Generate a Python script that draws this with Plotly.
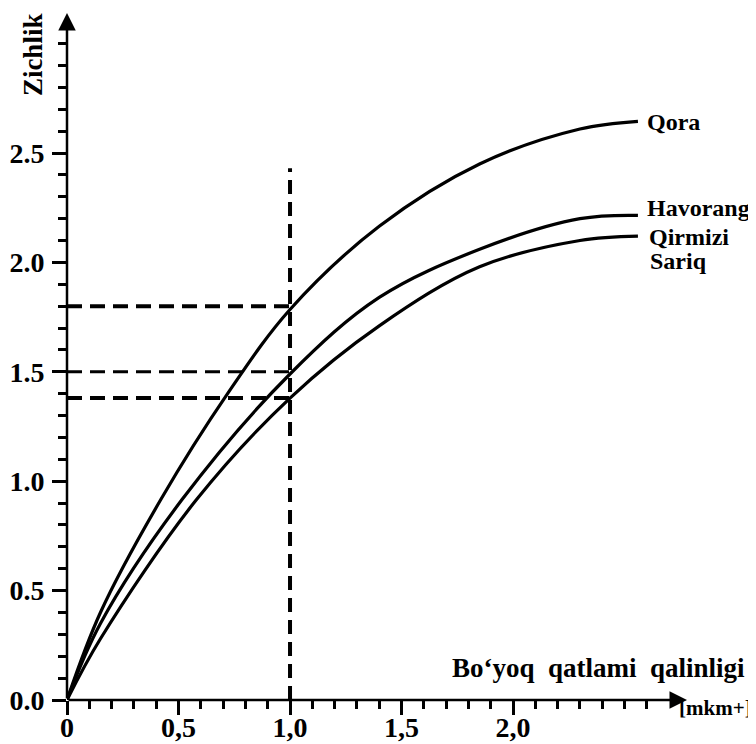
import plotly.graph_objects as go

# ---- data ----
qora_x = [0, 0.15, 0.42, 0.72, 1.0, 1.4, 1.85, 2.3, 2.56]
qora_y = [0, 0.40, 0.915, 1.40, 1.785, 2.165, 2.45, 2.61, 2.645]

havorang_x = [0, 0.15, 0.515, 1.0, 1.4, 1.85, 2.3, 2.56]
havorang_y = [0, 0.35, 0.915, 1.49, 1.84, 2.06, 2.20, 2.215]

qirmizi_x = [0, 0.15, 0.58, 1.0, 1.4, 1.85, 2.3, 2.56]
qirmizi_y = [0, 0.28, 0.915, 1.38, 1.71, 1.98, 2.10, 2.12]

ref_x = 1.0
ref_levels = [1.8, 1.5, 1.38]
ref_widths = [4, 3, 4]
vline_top = 2.43

x_major = [0, 0.5, 1.0, 1.5, 2.0]
x_major_text = ["0", "0,5", "1,0", "1,5", "2,0"]
x_minor = [round(0.1 * i, 1) for i in range(1, 27)]
y_major = [0, 0.5, 1.0, 1.5, 2.0, 2.5]
y_major_text = ["0.0", "0.5", "1.0", "1.5", "2.0", "2.5"]
y_minor = [round(0.1 * i, 1) for i in range(1, 31)]

x_end = 2.78
y_end = 3.14

FONT = "Liberation Serif"

fig = go.Figure()

# reference dashed lines
for lvl, w in zip(ref_levels, ref_widths):
    fig.add_trace(go.Scatter(x=[0, ref_x], y=[lvl, lvl], mode="lines",
                             line=dict(color="black", width=w, dash="15px,8px"),
                             hoverinfo="skip", showlegend=False))
fig.add_trace(go.Scatter(x=[ref_x, ref_x], y=[0, vline_top], mode="lines",
                         line=dict(color="black", width=4, dash="14px,8px"),
                         hoverinfo="skip", showlegend=False))

# curves
for xs, ys in [(qora_x, qora_y), (havorang_x, havorang_y), (qirmizi_x, qirmizi_y)]:
    fig.add_trace(go.Scatter(x=xs, y=ys, mode="lines",
                             line=dict(color="black", width=3.2, shape="spline", smoothing=1.0),
                             hoverinfo="skip", showlegend=False))

# curve labels
labels = [("Qora", 2.59, 2.64), ("Havorang", 2.59, 2.25),
          ("Qirmizi", 2.60, 2.115), ("Sariq", 2.605, 2.005)]
for txt, lx, ly in labels:
    fig.add_annotation(x=lx, y=ly, xref="x", yref="y", text=txt, showarrow=False,
                       xanchor="left", yanchor="middle",
                       font=dict(family=FONT, size=24, color="black", weight="bold"))

# axis arrows
fig.add_annotation(x=x_end, y=0, ax=0, ay=0, xref="x", yref="y", axref="x", ayref="y",
                   text="", showarrow=True, arrowhead=2, arrowsize=1.4, arrowwidth=2.5,
                   arrowcolor="black")
fig.add_annotation(x=0, y=y_end, ax=0, ay=0, xref="x", yref="y", axref="x", ayref="y",
                   text="", showarrow=True, arrowhead=2, arrowsize=1.4, arrowwidth=2.5,
                   arrowcolor="black")

# axis titles
fig.add_annotation(x=-0.055, y=0.94, xref="paper", yref="paper", text="Zichlik",
                   showarrow=False, textangle=-90, xanchor="center", yanchor="middle",
                   font=dict(family=FONT, size=27, color="black", weight="bold"))
fig.add_annotation(x=1.097, y=0.0466, xref="paper", yref="paper",
                   text="Bo‘yoq\u00a0 qatlami\u00a0 qalinligi",
                   showarrow=False, xanchor="right", yanchor="middle",
                   font=dict(family=FONT, size=27, color="black", weight="bold"))
fig.add_annotation(x=1.108, y=-0.012, xref="paper", yref="paper", text="[mkm+]",
                   showarrow=False, xanchor="right", yanchor="middle",
                   font=dict(family=FONT, size=21, color="black", weight="bold"))

# page body has an 8px default margin, so the figure is 8px smaller
fig.update_layout(
    width=748, height=736, autosize=False,
    margin=dict(l=59, r=69, t=5, b=44),
    paper_bgcolor="white", plot_bgcolor="white",
    showlegend=False,
)
fig.update_xaxes(range=[0, x_end], showgrid=False, zeroline=False, showline=False,
                 tickmode="array", tickvals=x_major, ticktext=x_major_text,
                 ticks="outside", ticklen=14, tickwidth=2.5, tickcolor="black",
                 ticklabelstandoff=-12,
                 tickfont=dict(family=FONT, size=28, color="black", weight="bold"),
                 minor=dict(tickmode="array", tickvals=x_minor, ticks="outside",
                            ticklen=8, tickwidth=2.5, tickcolor="black"),
                 automargin=False, fixedrange=True)
fig.update_yaxes(range=[0, y_end], showgrid=False, zeroline=False, showline=False,
                 tickmode="array", tickvals=y_major, ticktext=y_major_text,
                 ticks="outside", ticklen=14, tickwidth=2.5, tickcolor="black",
                 ticklabelstandoff=2,
                 tickfont=dict(family=FONT, size=28, color="black", weight="bold"),
                 minor=dict(tickmode="array", tickvals=y_minor, ticks="outside",
                            ticklen=8, tickwidth=2.5, tickcolor="black"),
                 automargin=False, fixedrange=True)

fig.write_html("out.html")
